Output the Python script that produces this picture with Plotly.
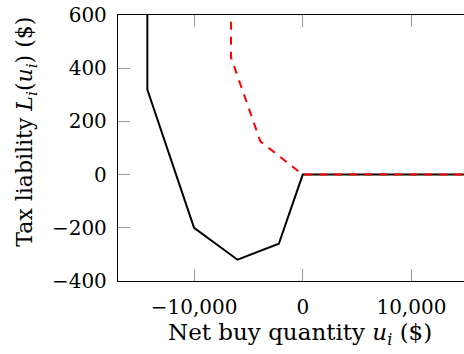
import plotly.graph_objects as go

# Data
black_x = [-14300, -14300, -10000, -6000, -2200, 0, 20000]
black_y = [600, 320, -200, -320, -260, 0, 0]

red_x = [-6600, -6600, -3900, 0, 20000]
red_y = [575, 440, 125, 0, 0]

x_ticks = [-10000, 0, 10000]
x_tick_labels = ["\u221210,000", "0", "10,000"]
y_ticks = [-400, -200, 0, 200, 400, 600]
y_tick_labels = ["\u2212400", "\u2212200", "0", "200", "400", "600"]

FONT = "DejaVu Serif"

fig = go.Figure()
fig.add_trace(go.Scatter(x=black_x, y=black_y, mode="lines",
                         line=dict(color="black", width=2), showlegend=False,
                         hoverinfo="skip"))
fig.add_trace(go.Scatter(x=red_x, y=red_y, mode="lines",
                         line=dict(color="#ff0000", width=2, dash="8px,7px"),
                         showlegend=False, hoverinfo="skip"))

W, H = 464, 354
L, T, B, R = 118, 15, 72.5, 0

def px_x(x):  # page pixel -> paper x
    return (x - L) / (W - L - R)

def px_y(y):  # page pixel -> paper y
    return (H - B - y) / (H - T - B)

fig.update_layout(
    width=W, height=H,
    margin=dict(l=L, r=R, t=T, b=B, pad=0, autoexpand=False),
    plot_bgcolor="white", paper_bgcolor="white",
    font=dict(family=FONT, size=20, color="black"),
    xaxis=dict(range=[-17000, 14840], tickvals=x_ticks, ticktext=x_tick_labels,
               showgrid=False, zeroline=False, showline=True, linecolor="black",
               linewidth=1.3, mirror="ticks", ticks="inside", ticklen=12,
               tickcolor="#999999", tickwidth=1, ticklabelstandoff=8,
               ticklabeloverflow="allow"),
    yaxis=dict(range=[-400, 600], tickvals=y_ticks, ticktext=y_tick_labels,
               showgrid=False, zeroline=False, showline=True, linecolor="black",
               linewidth=1.3, ticks="inside", ticklen=12,
               tickcolor="#999999", tickwidth=1, ticklabelstandoff=6,
               ticklabeloverflow="allow"),
    annotations=[
        dict(text="Net buy quantity <i>u<sub>i</sub></i> ($)", xref="paper", yref="paper",
             x=px_x(300), y=px_y(335),
             xanchor="center", yanchor="middle", showarrow=False,
             font=dict(family=FONT, size=23)),
        dict(text="Tax liability <i>L<sub>i</sub></i>(<i>u<sub>i</sub></i>) ($)",
             xref="paper", yref="paper", textangle=-90,
             x=px_x(27), y=px_y(132),
             xanchor="center", yanchor="middle", showarrow=False,
             font=dict(family=FONT, size=22)),
    ],
)

fig.write_html(
    "out.html",
    config={"displayModeBar": False},
    post_script="document.body.style.margin='0';document.body.style.overflow='hidden';",
)
